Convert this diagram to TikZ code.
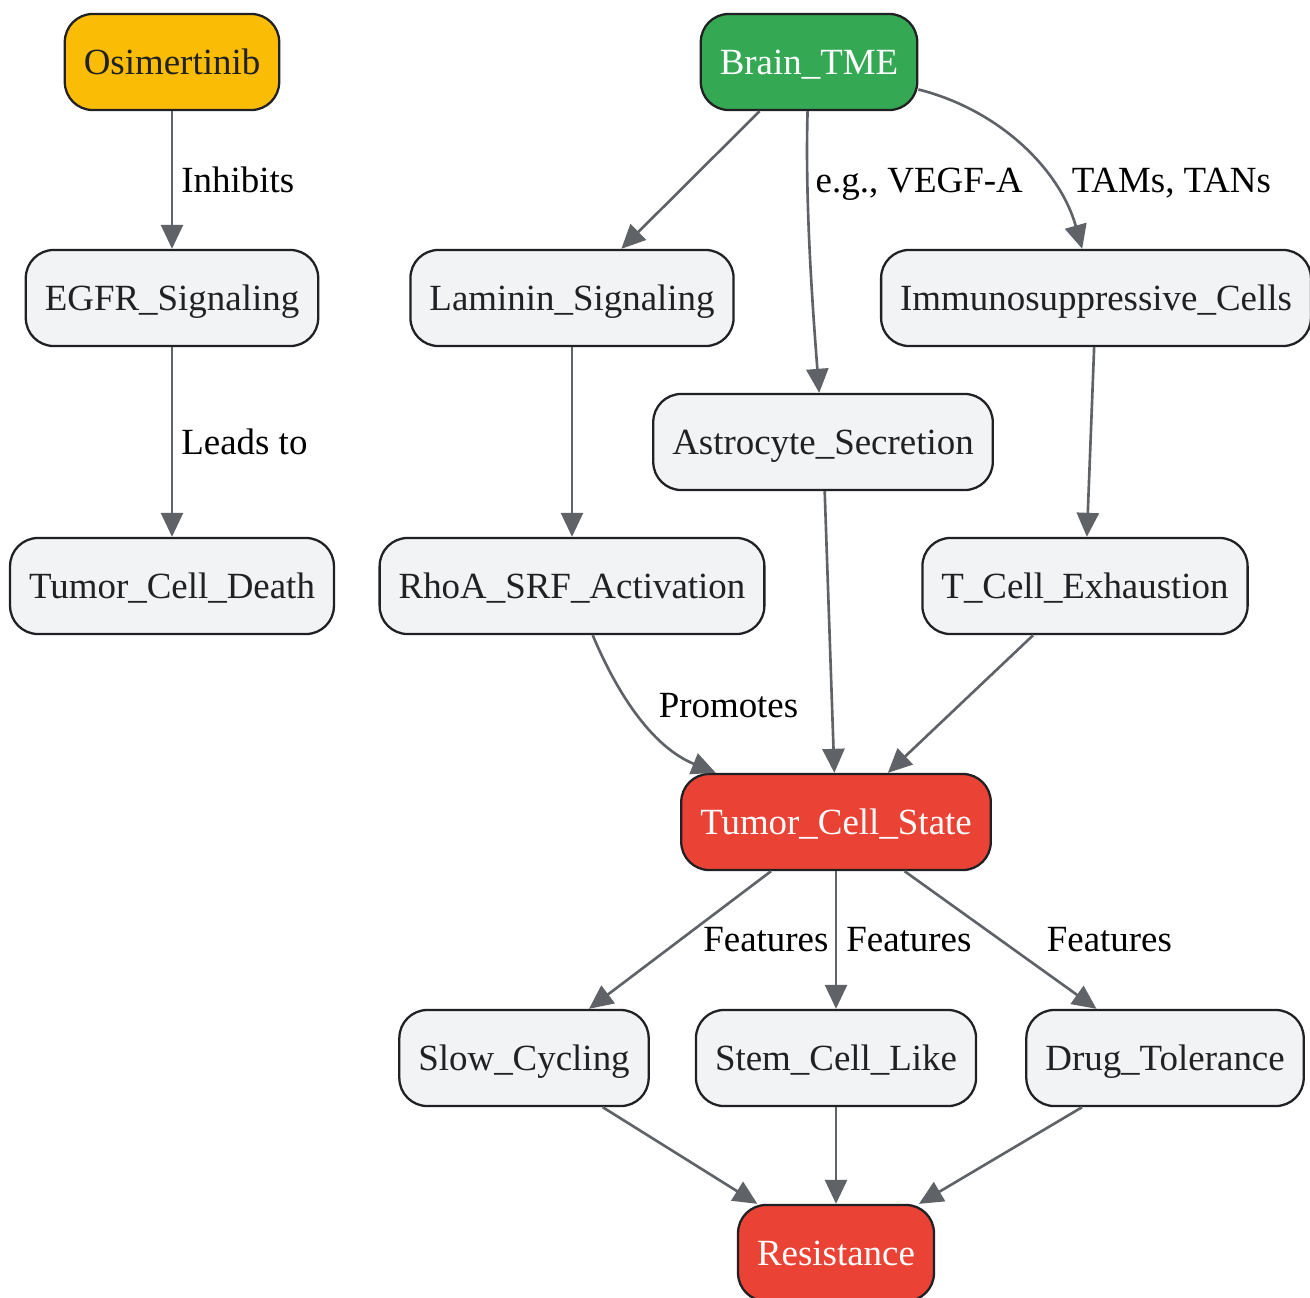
\documentclass[tikz,border=0pt]{standalone}
\usepackage{fontspec}
\setmainfont{Liberation Serif}
\usetikzlibrary{arrows.meta}
\definecolor{edgegray}{HTML}{5F6368}
\definecolor{boxgray}{HTML}{F1F3F4}
\definecolor{boxline}{HTML}{202124}
\definecolor{osiyellow}{HTML}{FBBC05}
\definecolor{tmegreen}{HTML}{34A853}
\definecolor{statered}{HTML}{EA4335}

\tikzset{
  box/.style={draw=boxline, line width=0.65pt, rounded corners=0.28cm, fill=boxgray, text=boxline,
    minimum height=0.96cm, inner xsep=0.19cm, text height=0.33cm, text depth=0.08cm,
    font=\fontsize{10.5}{12}\selectfont},
  drugbox/.style={box, fill=osiyellow},
  tmebox/.style={box, fill=tmegreen, text=white},
  redbox/.style={box, fill=statered, text=white},
  link/.style={draw=edgegray, line width=0.75pt, -{Triangle[length=0.24cm, width=0.22cm]}},
  lbl/.style={text=black, anchor=west, inner sep=0pt, font=\fontsize{10.5}{12}\selectfont}
}

\begin{document}
\begin{tikzpicture}[x=0.01cm, y=-0.01cm]
\useasboundingbox (0,0) rectangle (1310,1297);
% top row
\node[drugbox] (osim) at (172,62) {Osimertinib};
\node[tmebox] (tme) at (809,62) {Brain\_TME};
% second row
\node[box] (egfr) at (172,298) {EGFR\_Signaling};
\node[box] (laminin) at (572,298) {Laminin\_Signaling};
\node[box] (immuno) at (1096,298) {Immunosuppressive\_Cells};
\node[box] (astro) at (823,442) {Astrocyte\_Secretion};
% third row
\node[box] (death) at (172,586) {Tumor\_Cell\_Death};
\node[box] (rhoa) at (572,586) {RhoA\_SRF\_Activation};
\node[box] (tcell) at (1085,586) {T\_Cell\_Exhaustion};
% state and features
\node[redbox] (state) at (836,822) {Tumor\_Cell\_State};
\node[box] (slow) at (524,1058) {Slow\_Cycling};
\node[box] (stem) at (836,1058) {Stem\_Cell\_Like};
\node[box] (tol) at (1165,1058) {Drug\_Tolerance};
\node[redbox] (resist) at (836,1253) {Resistance};

% connectors
\draw[link] (osim) -- (egfr) node[lbl, midway, xshift=0.08cm]{Inhibits};
\draw[link] (egfr) -- (death) node[lbl, midway, xshift=0.08cm]{Leads to};
\draw[link] (tme) -- (laminin);
\draw[link] (tme) .. controls (805,200) and (812,300) .. (astro) node[lbl, pos=0.265, xshift=0.07cm]{e.g., VEGF-A};
\draw[link] (tme) .. controls (1000,110) and (1060,170) .. (immuno) node[lbl, pos=0.7, xshift=0.18cm]{TAMs, TANs};
\draw[link] (laminin) -- (rhoa);
\draw[link] (immuno) -- (tcell);
\draw[link] (rhoa) .. controls (620,700) and (655,748) .. (state) node[lbl, pos=0.41, xshift=0.26cm]{Promotes};
\draw[link] (astro) -- (state);
\draw[link] (tcell) -- (state);
\draw[link] (state) -- (slow) node[lbl, midway, xshift=0.22cm]{Features};
\draw[link] (state) -- (stem) node[lbl, midway, xshift=0.09cm]{Features};
\draw[link] (state) -- (tol) node[lbl, midway, xshift=0.45cm]{Features};
\draw[link] (slow) -- (resist);
\draw[link] (stem) -- (resist);
\draw[link] (tol) -- (resist);
\end{tikzpicture}
\end{document}
